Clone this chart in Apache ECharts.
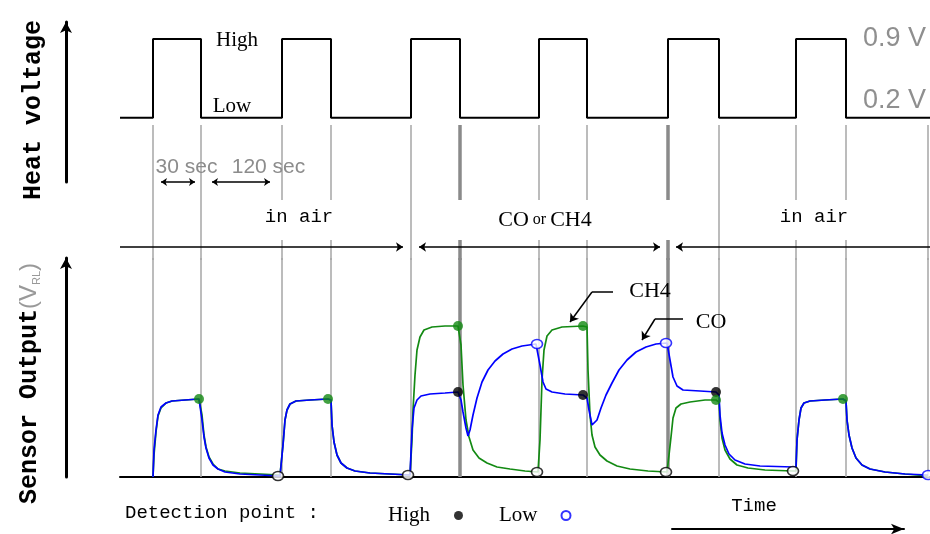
<!DOCTYPE html>
<html><head><meta charset="utf-8">
<script src="https://cdn.jsdelivr.net/npm/echarts@6/dist/echarts.min.js"></script>
<style>html,body{margin:0;padding:0;background:#fff}#c{width:930px;height:534px}</style>
</head><body><div id="c"></div>
<script>
// ---------------- DATA ----------------
// heater timing on the common time axis
const switchOn  = [33, 162, 291, 419, 548, 676];   // heater -> High
const switchOff = [81, 211, 340, 467, 599, 726];   // heater -> Low
const tEnd = 810;                                  // end of the time axis
const tLast = 808;                                 // last detection instant
const heaterLevels = [0.2, 0.9];                   // Low, High (V)
const levelNames = ['Low', 'High'];
const intervalLabels = ['30 sec', '120 sec'];
const phaseLabels = ['in air', 'CO or CH4', 'in air'];
const phaseBounds = [0, 291, 548, 810];

// sensor output (relative units) : [time, value]
const ch4Output = [[33,0],[34,22],[36,45],[38,61],[41,69],[46,74],[52,76],[65,77],[79,78],[81,77],[82,62],[84,42],[86,30],[89,20],[93,13],[98,8],[105,6],[120,4],[140,3],[160,2],[162,2],[163,32],[165,57],[167,67],[170,73],[176,76],[190,77],[208,78],[211,77],[212,52],[214,35],[217,22],[221,14],[227,9],[235,6],[250,4],[270,3],[290,2],[291,2],[292,37],[293,67],[295,102],[297,127],[300,140],[304,147],[312,150],[325,151],[338,151],[340,150],[341,132],[343,92],[346,57],[349,40],[353,27],[359,19],[367,14],[377,10],[390,8],[405,6],[418,5],[419,7],[420,37],[422,97],[424,127],[427,141],[432,147],[442,150],[463,151],[467,150],[468,107],[470,62],[472,42],[475,30],[480,22],[487,16],[497,11],[510,8],[528,6],[547,5],[548,7],[549,22],[551,40],[553,59],[556,69],[561,73],[570,75],[585,77],[596,77],[599,75],[600,57],[602,39],[605,27],[610,18],[617,12],[628,9],[645,7],[673,6],[676,6],[677,37],[679,57],[681,69],[684,74],[690,76],[705,77],[723,78],[726,76],[727,57],[729,42],[732,29],[736,19],[742,12],[750,8],[765,5],[785,3],[808,1]];
const coOutput = [[33,0],[34,27],[36,47],[38,62],[41,70],[46,74],[52,76],[65,77],[79,78],[81,77],[82,57],[84,40],[86,29],[89,19],[93,12],[98,8],[105,5],[120,3],[140,2],[160,1],[162,1],[163,32],[165,57],[167,67],[170,73],[176,76],[190,77],[208,78],[211,77],[212,52],[214,35],[217,22],[221,14],[227,9],[235,6],[250,4],[270,3],[290,2],[291,2],[292,47],[294,69],[297,77],[301,81],[310,83],[325,84],[338,85],[340,84],[341,77],[343,65],[346,49],[348,41],[350,47],[353,62],[357,79],[362,95],[368,107],[375,116],[383,123],[392,128],[402,131],[416,133],[418,131],[420,112],[423,95],[426,88],[432,85],[445,83],[463,82],[467,79],[469,67],[472,52],[474,50],[477,57],[481,69],[486,82],[492,94],[499,107],[507,117],[516,125],[526,130],[536,133],[547,134],[548,132],[550,117],[553,100],[557,91],[563,87],[580,86],[596,85],[599,82],[600,62],[602,44],[605,32],[609,23],[615,17],[625,13],[640,11],[673,10],[676,10],[677,37],[679,57],[681,69],[684,74],[690,76],[705,77],[723,78],[726,76],[727,57],[729,42],[732,29],[736,19],[742,12],[750,8],[765,5],[785,3],[808,2]];

// detection points
const highCH4 = [[79,78],[208,78],[338,151],[463,151],[596,77],[723,78]];
const highCO  = [[338,85],[463,82],[596,85]];
const lowCH4  = [[158,1],[288,2],[417,5],[546,5],[673,6]];
const lowCO   = [[417,133],[546,134],[808,2]];

// ---------------- STYLE / LAYOUT ----------------
const F_MONO = '"Liberation Mono","DejaVu Sans Mono",monospace';
const F_SERIF = '"Liberation Serif","DejaVu Serif",serif';
const F_SANS = '"Liberation Sans",Arial,sans-serif';
const GREEN = '#138a13', BLUE = '#0000ff';
const boldGuides = [340, 548];
const phaseLabelPos = [179, 425, 694];
const phaseLabelHalf = [36, 54, 36];

const LOW = heaterLevels[0], HIGH = heaterLevels[1];
const heatWave = [[0, LOW]];
switchOn.forEach((on, i) => {
  const off = switchOff[i];
  heatWave.push([on, LOW], [on, HIGH], [off, HIGH], [off, LOW]);
});
heatWave.push([tEnd, LOW]);

const guideTimes = [...switchOn, ...switchOff, tLast].sort((a, b) => a - b);
const guideStyle = t => boldGuides.includes(t)
  ? {color: '#8a8a8a', width: 3.5, type: 'solid'}
  : {color: '#a6a6a6', width: 1.5, type: 'solid'};

const midLines = [];
guideTimes.forEach(t => {
  const ls = guideStyle(t);
  const broken = boldGuides.includes(t) ||
    phaseLabelPos.some((c, i) => Math.abs(t - c) < phaseLabelHalf[i]);
  if (broken) {
    midLines.push([{coord: [t, 135], lineStyle: ls}, {coord: [t, 60]}]);
    midLines.push([{coord: [t, 20], lineStyle: ls}, {coord: [t, 0]}]);
  } else {
    midLines.push([{coord: [t, 135], lineStyle: ls}, {coord: [t, 0]}]);
  }
});
const blackLS = {color: '#000', width: 1.5, type: 'solid'};
const arr = (s) => ({symbol: 'arrow', symbolSize: s});
// interval arrows (High duration, Low duration)
const hiSpan = [switchOn[0] + 8, switchOff[0] - 6];
const loSpan = [switchOff[0] + 11, switchOn[1] - 12];
midLines.push([{coord: [hiSpan[0], 78], lineStyle: blackLS, ...arr(6)}, {coord: [hiSpan[1], 78], ...arr(6)}]);
midLines.push([{coord: [loSpan[0], 78], lineStyle: blackLS, ...arr(6)}, {coord: [loSpan[1], 78], ...arr(6)}]);
// phase arrows
const g = 8;
midLines.push([{coord: [phaseBounds[0], 13], lineStyle: blackLS}, {coord: [phaseBounds[1] - g, 13], ...arr(7)}]);
midLines.push([{coord: [phaseBounds[1] + g, 13], lineStyle: blackLS, ...arr(7)}, {coord: [phaseBounds[2] - g, 13], ...arr(7)}]);
midLines.push([{coord: [phaseBounds[2] + g, 13], lineStyle: blackLS, ...arr(7)}, {coord: [phaseBounds[3], 13]}]);

const midTexts = [
  {coord: [66.5, 93], label: {formatter: intervalLabels[0], color: '#8c8c8c', fontFamily: F_SANS, fontSize: 21}},
  {coord: [148.5, 93], label: {formatter: intervalLabels[1], color: '#8c8c8c', fontFamily: F_SANS, fontSize: 21}},
  {coord: [phaseLabelPos[0], 43], label: {formatter: phaseLabels[0], fontFamily: F_MONO, fontSize: 19}},
  {coord: [phaseLabelPos[1], 40], label: {formatter: '{a|CO}{b| or }{a|CH4}', rich: {
      a: {fontFamily: F_SERIF, fontSize: 22, color: '#000'},
      b: {fontFamily: F_SERIF, fontSize: 16, color: '#000'}}}},
  {coord: [phaseLabelPos[2], 43], label: {formatter: phaseLabels[2], fontFamily: F_MONO, fontSize: 19}}
];

const textMP = (data) => ({
  symbol: 'circle', symbolSize: 1, silent: true,
  itemStyle: {color: 'rgba(0,0,0,0)'},
  label: {show: true, position: 'inside', color: '#000'},
  emphasis: {disabled: true},
  data
});

const hiddenX = (gi) => ({gridIndex: gi, type: 'value', min: 0, max: tEnd, show: false});

const option = {
  animation: false,
  backgroundColor: '#fff',
  title: {text: 'Detection point :', left: 125, top: 503, padding: 0,
    textStyle: {fontFamily: F_MONO, fontSize: 19, fontWeight: 'normal', color: '#000'}},
  legend: {
    data: ['High', 'Low'], left: 383, top: 500, align: 'right', selectedMode: false,
    itemGap: 36, itemWidth: 11, itemHeight: 9,
    textStyle: {fontFamily: F_SERIF, fontSize: 21, color: '#000', padding: [0, 18, 0, 0]}
  },
  grid: [
    {left: 120, right: 0, top: 22, height: 160},
    {left: 120, right: 0, top: 120, height: 140},
    {left: 120, right: 0, top: 258, height: 219},
    {left: 672, right: 26, top: 529, height: 2}
  ],
  xAxis: [
    hiddenX(0), hiddenX(1),
    {gridIndex: 2, type: 'value', min: 0, max: tEnd,
      axisLine: {show: true, onZero: false, lineStyle: {color: '#000', width: 2}},
      axisTick: {show: false}, axisLabel: {show: false}, splitLine: {show: false}},
    {gridIndex: 3, type: 'value', min: 0, max: 1, position: 'top',
      axisLine: {show: true, onZero: false, symbol: ['none', 'arrow'], symbolSize: [8, 13],
        lineStyle: {color: '#000', width: 2}},
      axisTick: {show: false}, axisLabel: {show: false}, splitLine: {show: false},
      name: 'Time', nameLocation: 'middle', nameGap: 14,
      nameTextStyle: {fontFamily: F_MONO, fontSize: 19, color: '#000', padding: [0, 68, 0, 0]}}
  ],
  yAxis: [
    {gridIndex: 0, type: 'value', min: -0.37, max: 1.05, position: 'left', offset: 54,
      axisLine: {show: true, onZero: false, symbol: ['none', 'arrow'], symbolSize: [9, 11],
        lineStyle: {color: '#000', width: 3}},
      axisTick: {show: false}, axisLabel: {show: false}, splitLine: {show: false},
      name: 'Heat voltage', nameLocation: 'middle', nameRotate: 90, nameGap: 20,
      nameTextStyle: {fontFamily: F_MONO, fontWeight: 'bold', fontSize: 25, color: '#000', padding: [0, 16, 0, 0]}},
    {gridIndex: 0, type: 'value', min: -0.37, max: 1.05, position: 'right',
      axisLine: {show: false}, axisTick: {show: false}, splitLine: {show: false},
      axisLabel: {show: true, inside: true, margin: 4, customValues: heaterLevels,
        formatter: v => v === HIGH ? `{hi|${v} V}` : `{lo|${v} V}`,
        rich: {
          hi: {fontFamily: F_SANS, fontSize: 27, color: '#8f8f8f'},
          lo: {fontFamily: F_SANS, fontSize: 27, color: '#8f8f8f', padding: [0, 0, 34, 0]}
        }}},
    {gridIndex: 1, type: 'value', min: 0, max: 140, show: false},
    {gridIndex: 2, type: 'value', min: 0, max: 219, position: 'left', offset: 54,
      axisLine: {show: true, onZero: false, symbol: ['none', 'arrow'], symbolSize: [9, 11],
        lineStyle: {color: '#000', width: 3}},
      axisTick: {show: false}, axisLabel: {show: false}, splitLine: {show: false},
      name: '{a|Sensor Output}{b|(V}{c|RL}{b|)}', nameLocation: 'middle', nameRotate: 90, nameGap: 24,
      nameTextStyle: {padding: [0, 32, 0, 0], rich: {
        a: {fontFamily: F_MONO, fontWeight: 'bold', fontSize: 25, color: '#000'},
        b: {fontFamily: F_SANS, fontSize: 24, color: '#999'},
        c: {fontFamily: F_SANS, fontSize: 11, color: '#999', verticalAlign: 'bottom'}
      }}},
    {gridIndex: 3, type: 'value', show: false}
  ],
  series: [
    {name: 'Heat voltage', type: 'line', xAxisIndex: 0, yAxisIndex: 0, data: heatWave,
      symbol: 'none', silent: true, lineStyle: {color: '#000', width: 2}, emphasis: {disabled: true},
      markPoint: textMP([
        {coord: [117, 0.89], label: {formatter: levelNames[1], fontFamily: F_SERIF, fontSize: 21}},
        {coord: [112, 0.30], label: {formatter: levelNames[0], fontFamily: F_SERIF, fontSize: 21}}
      ])},
    {name: 'guides', type: 'line', xAxisIndex: 1, yAxisIndex: 2, data: [], silent: true,
      markLine: {silent: true, symbol: ['none', 'none'], label: {show: false}, emphasis: {disabled: true},
        data: midLines},
      markPoint: textMP(midTexts)},
    {name: 'CH4', type: 'line', xAxisIndex: 2, yAxisIndex: 3, data: ch4Output, symbol: 'none',
      silent: true, lineStyle: {color: GREEN, width: 1.7}, itemStyle: {color: GREEN}, emphasis: {disabled: true},
      markLine: {silent: true, z: 1, symbol: ['none', 'none'], label: {show: false}, emphasis: {disabled: true},
        data: guideTimes.map(t => ({xAxis: t, lineStyle: guideStyle(t)}))},
      markPoint: textMP([{coord: [530, 186], label: {formatter: 'CH4', fontFamily: F_SERIF, fontSize: 22}}])},
    {name: 'CO', type: 'line', xAxisIndex: 2, yAxisIndex: 3, data: coOutput, symbol: 'none',
      silent: true, lineStyle: {color: BLUE, width: 1.7}, itemStyle: {color: BLUE}, emphasis: {disabled: true},
      markLine: {silent: true, symbol: ['none', 'none'], label: {show: false}, emphasis: {disabled: true},
        data: [
          [{coord: [493, 185], lineStyle: blackLS}, {coord: [472, 185]}],
          [{coord: [472, 185], lineStyle: blackLS}, {coord: [450, 155], symbol: 'arrow', symbolSize: 8}],
          [{coord: [563, 158], lineStyle: blackLS}, {coord: [535, 158]}],
          [{coord: [535, 158], lineStyle: blackLS}, {coord: [522, 137], symbol: 'arrow', symbolSize: 8}]
        ]},
      markPoint: textMP([{coord: [591, 155], label: {formatter: 'CO', fontFamily: F_SERIF, fontSize: 22}}])},
    {name: 'High', type: 'scatter', xAxisIndex: 2, yAxisIndex: 3, z: 4, silent: true,
      symbol: 'circle', symbolSize: 10, itemStyle: {color: '#000'}, emphasis: {disabled: true},
      data: [...highCO.map(p => ({value: p})),
             ...highCH4.map(p => ({value: p, itemStyle: {color: GREEN}}))]},
    {name: 'Low', type: 'scatter', xAxisIndex: 2, yAxisIndex: 3, z: 4, silent: true,
      symbol: 'circle', symbolSize: [11, 9], emphasis: {disabled: true},
      itemStyle: {color: '#fff', borderColor: BLUE, borderWidth: 1.5},
      data: [...lowCO.map(p => ({value: p})),
             ...lowCH4.map(p => ({value: p, itemStyle: {color: '#fff', borderColor: '#000', borderWidth: 1.5}}))]}
  ]
};
const chart = echarts.init(document.getElementById('c'));
chart.setOption(option);
</script></body></html>
